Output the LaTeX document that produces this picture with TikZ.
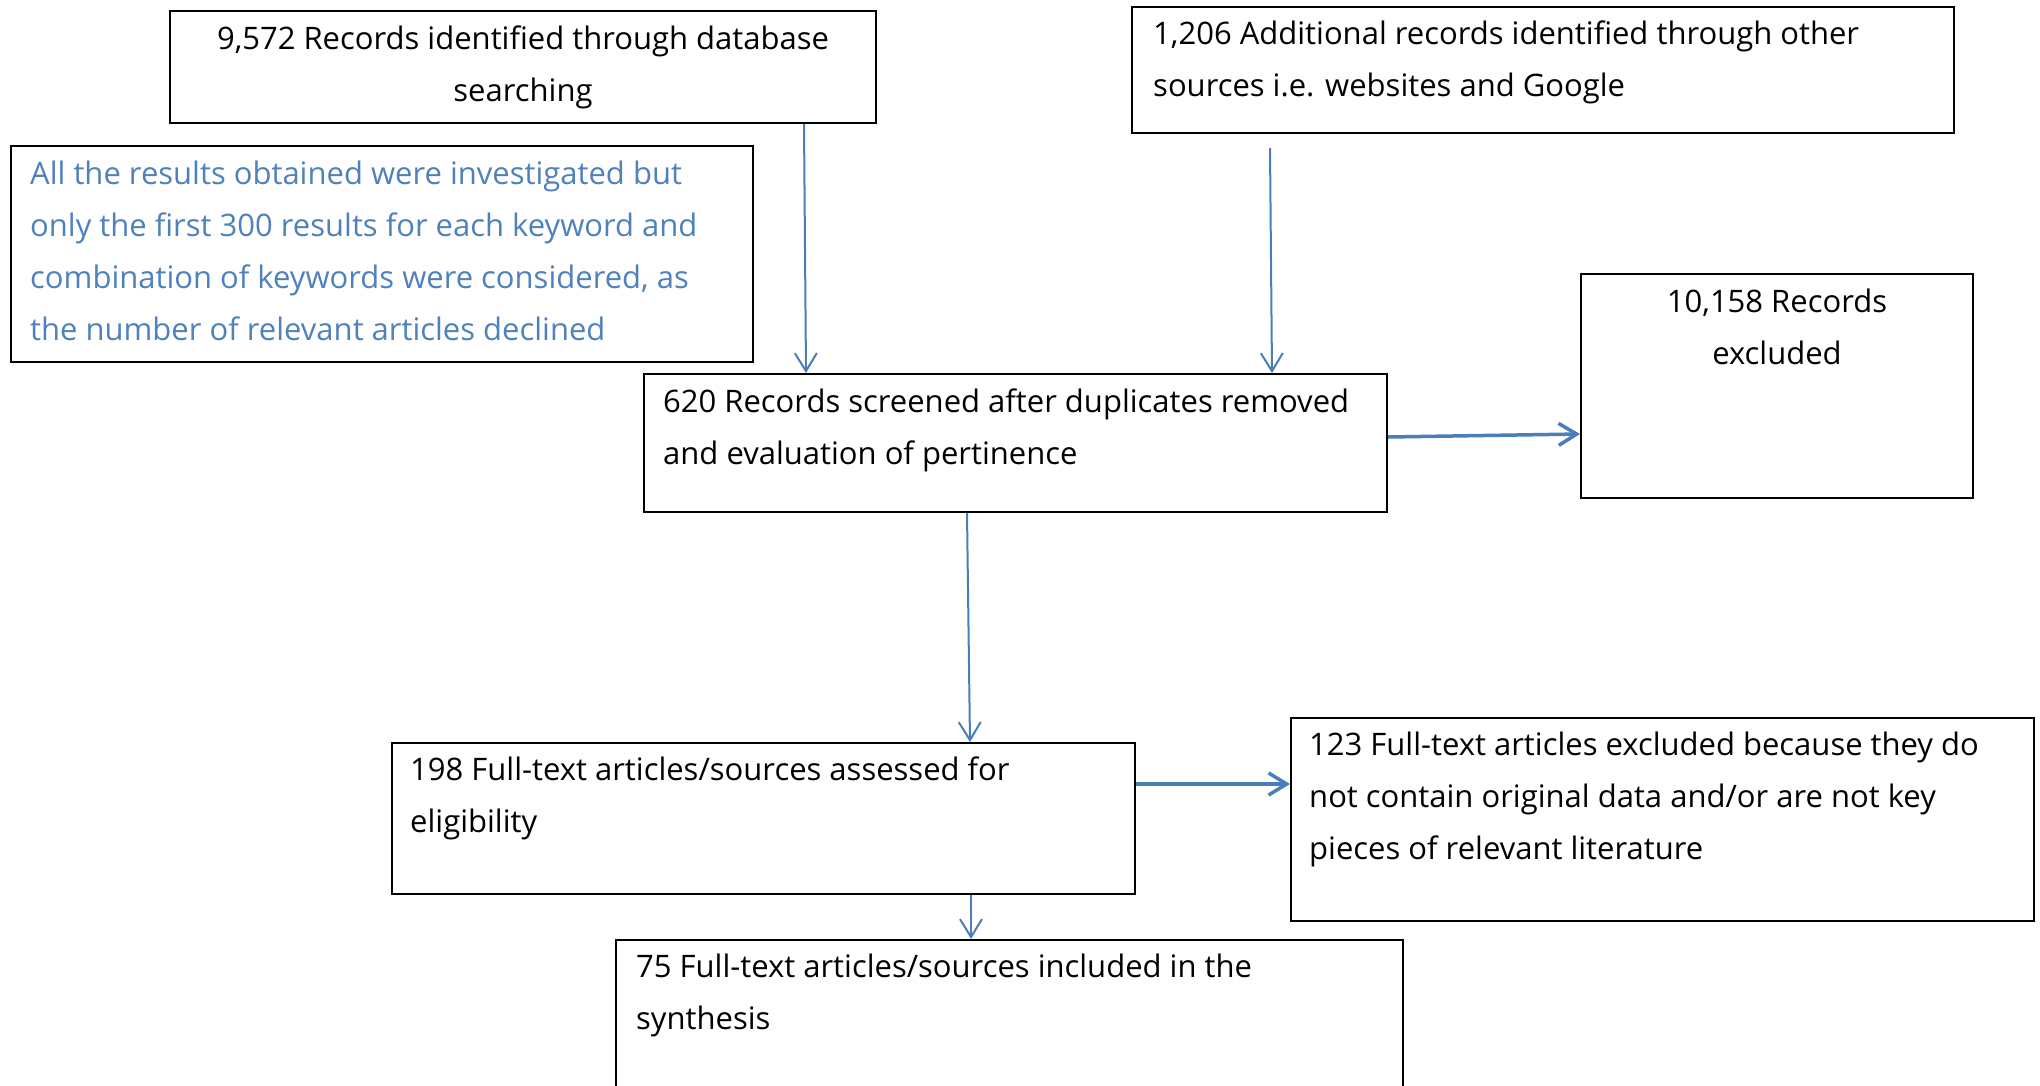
\documentclass[tikz,border=0pt]{standalone}
\usepackage{fontspec}
\setmainfont{Open Sans}
\usetikzlibrary{arrows.meta,calc}
\definecolor{linkblue}{HTML}{4A7EBB}
\definecolor{noteblue}{HTML}{4F81BD}
\newcommand{\flowtext}[2]{\parbox[t]{#1}{\raggedright #2}}
\newcommand{\flowtextc}[2]{\parbox[t]{#1}{\centering #2}}
\tikzset{
  stagebox/.style={draw=black, line width=2pt, fill=white, inner sep=0pt, anchor=north west},
  label text/.style={inner sep=0pt, font=\fontsize{31}{52}\selectfont},
  link/.style={draw=linkblue, line width=2pt, -{Straight Barb[length=18pt,width=22pt]}},
  thick link/.style={link, line width=3.5pt}
}
\begin{document}
\begin{tikzpicture}[x=1pt,y=-1pt]
  \useasboundingbox (0,0) rectangle (2040,1085);
  \clip (0,0) rectangle (2040,1085);

  % boxes
  \node[stagebox, minimum width=706pt, minimum height=112pt] (db) at (169,10) {};
  \node[stagebox, minimum width=742pt, minimum height=216pt] (note) at (10,145) {};
  \node[stagebox, minimum width=822pt, minimum height=126pt] (other) at (1131,6) {};
  \node[stagebox, minimum width=743pt, minimum height=138pt] (screen) at (643,373) {};
  \node[stagebox, minimum width=392pt, minimum height=224pt] (excl) at (1580,273) {};
  \node[stagebox, minimum width=743pt, minimum height=151pt] (full) at (391,742) {};
  \node[stagebox, minimum width=743pt, minimum height=203pt] (fullex) at (1290,717) {};
  \node[stagebox, minimum width=787pt, minimum height=200pt] (incl) at (615,939) {};

  % texts
  \node[label text, anchor=base] (dbt) at ($(db.north)+(0,39)$)
    {\flowtextc{700pt}{9,572 Records identified through database\\searching}};
  \node[label text, anchor=base west, text=noteblue] (notet) at ($(note.north west)+(20,39)$)
    {\flowtext{730pt}{All the results obtained were investigated but\\only the first 300 results for each keyword and\\combination of keywords were considered, as\\the number of relevant articles declined}};
  \node[label text, anchor=base west] (othert) at ($(other.north west)+(22,38)$)
    {\flowtext{800pt}{1,206 Additional records identified through other\\sources i.e. websites and Google}};
  \node[label text, anchor=base west] (screent) at ($(screen.north west)+(20,39)$)
    {\flowtext{740pt}{620 Records screened after duplicates removed\\and evaluation of pertinence}};
  \node[label text, anchor=base] (exclt) at ($(excl.north)+(0,39)$)
    {\flowtextc{380pt}{10,158 Records\\excluded}};
  \node[label text, anchor=base west] (fullt) at ($(full.north west)+(19,38)$)
    {\flowtext{740pt}{198 Full-text articles/sources assessed for\\eligibility}};
  \node[label text, anchor=base west] (fullext) at ($(fullex.north west)+(19,38)$)
    {\flowtext{740pt}{123 Full-text articles excluded because they do\\not contain original data and/or are not key\\pieces of relevant literature}};
  \node[label text, anchor=base west] (inclt) at ($(incl.north west)+(21,38)$)
    {\flowtext{780pt}{75 Full-text articles/sources included in the\\synthesis}};

  % connectors
  \draw[link] ($(db.south west)+(635,0)$) -- ($(screen.north west)+(163,0)$);
  \draw[link] ($(other.south west)+(139,14)$) -- ($(screen.north west)+(629,0)$);
  \draw[thick link] ($(screen.north east)+(0,64)$) -- ($(excl.north west)+(0,161)$);
  \draw[link] ($(screen.south west)+(324,0)$) -- ($(full.north west)+(579,0)$);
  \draw[thick link] ($(full.north east)+(0,42)$) -- ($(fullex.north west)+(0,67)$);
  \draw[link] ($(full.south west)+(580,0)$) -- ($(incl.north west)+(356,0)$);
\end{tikzpicture}
\end{document}
